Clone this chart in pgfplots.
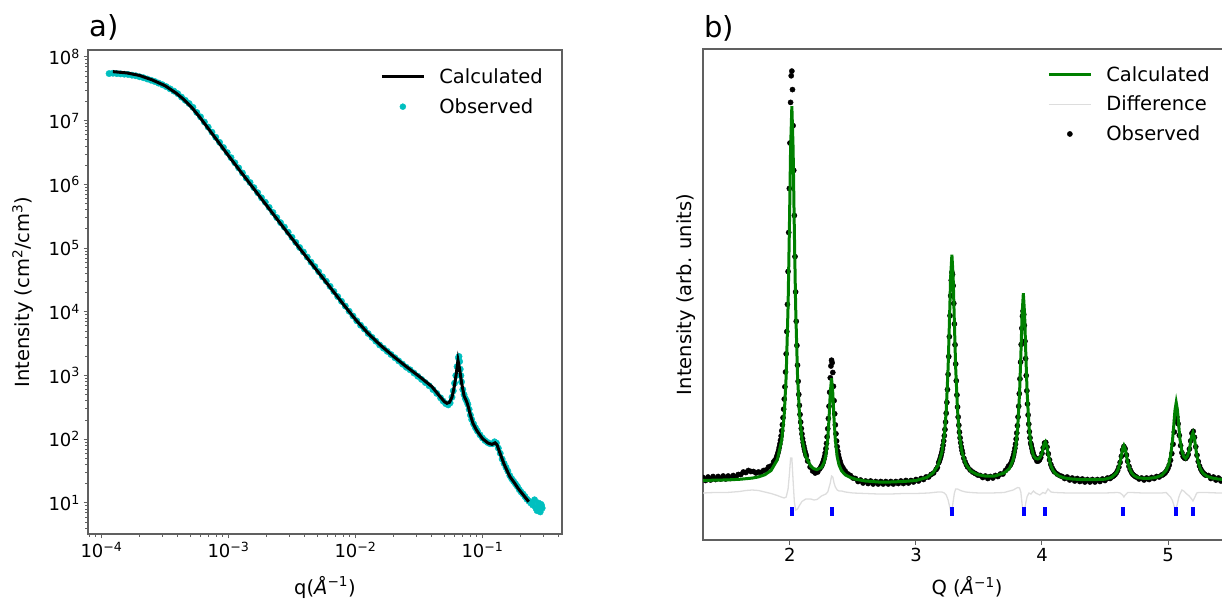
\documentclass[border=0pt]{standalone}
\usepackage{fontspec}
\setmainfont{DejaVu Sans}
\usepackage{pgfplots}
\usepackage{pgfplotstable}
\pgfplotsset{compat=1.18}

\definecolor{cCalc}{HTML}{008000}
\definecolor{cObs}{HTML}{00BFBF}
\definecolor{cDiff}{HTML}{DDDDDD}
\definecolor{cSpine}{HTML}{606060}

% panel a: log10(q) and log10(I)
\pgfplotstableread{
lq lI
-3.91 7.77
-3.80 7.75
-3.70 7.71
-3.60 7.64
-3.50 7.55
-3.41 7.43
-3.35 7.33
-3.29 7.21
-3.23 7.065
-3.17 6.905
-3.10 6.72
-3.00 6.45
-2.90 6.19
-2.80 5.93
-2.70 5.67
-2.60 5.41
-2.50 5.15
-2.40 4.895
-2.30 4.64
-2.20 4.385
-2.10 4.13
-2.00 3.88
-1.90 3.66
-1.80 3.47
-1.70 3.30
-1.60 3.14
-1.50 2.99
-1.40 2.83
-1.33 2.66
-1.30 2.59
-1.28 2.565
-1.26 2.58
-1.24 2.66
-1.22 2.85
-1.205 3.05
-1.193 3.24
-1.18 3.10
-1.164 2.88
-1.145 2.68
-1.124 2.59
-1.11 2.50
-1.098 2.40
-1.075 2.25
-1.046 2.14
-1.00 2.01
-0.956 1.94
-0.925 1.92
-0.901 1.945
-0.885 1.91
-0.862 1.78
-0.83 1.61
-0.80 1.48
-0.783 1.41
-0.75 1.32
-0.72 1.23
-0.68 1.13
-0.636 1.02
}\saxsCalc

\pgfplotstableread{
lq lI
-3.94 7.74
-3.91 7.745
-3.88 7.74
-3.85 7.735
-3.82 7.73
-3.79 7.725
-3.76 7.715
-3.73 7.705
-3.70 7.69
-3.67 7.675
-3.64 7.655
-3.61 7.635
-3.58 7.615
-3.55 7.59
-3.52 7.565
-3.49 7.535
-3.46 7.50
-3.43 7.465
-3.40 7.425
-3.37 7.37
-3.34 7.32
-3.31 7.27
-3.28 7.21
-3.25 7.13
-3.22 7.06
-3.19 6.98
-3.16 6.90
-3.13 6.82
-3.10 6.74
-3.07 6.66
-3.04 6.58
-3.01 6.50
-2.98 6.42
-2.95 6.34
-2.92 6.26
-2.89 6.18
-2.86 6.10
-2.83 6.03
-2.80 5.95
-2.77 5.87
-2.74 5.79
-2.71 5.72
-2.68 5.64
-2.65 5.56
-2.62 5.48
-2.59 5.40
-2.56 5.33
-2.53 5.25
-2.50 5.17
-2.47 5.09
-2.44 5.01
-2.41 4.94
-2.38 4.86
-2.35 4.78
-2.32 4.71
-2.29 4.63
-2.26 4.55
-2.23 4.48
-2.20 4.40
-2.17 4.32
-2.14 4.24
-2.11 4.165
-2.08 4.09
-2.05 4.01
-2.02 3.935
-1.99 3.86
-1.96 3.79
-1.93 3.73
-1.90 3.66
-1.87 3.60
-1.84 3.54
-1.81 3.48
-1.78 3.43
-1.75 3.38
-1.72 3.33
-1.69 3.28
-1.66 3.23
-1.63 3.18
-1.60 3.13
-1.57 3.09
-1.54 3.04
-1.51 2.99
-1.48 2.94
-1.45 2.89
-1.42 2.84
-1.39 2.78
-1.36 2.72
-1.33 2.65
-1.31 2.60
-1.29 2.56
-1.27 2.54
-1.255 2.57
-1.24 2.66
-1.23 2.76
-1.22 2.88
-1.21 3.00
-1.20 3.14
-1.19 3.28
-1.185 3.30
-1.18 3.22
-1.175 3.10
-1.17 3.00
-1.165 2.90
-1.155 2.78
-1.145 2.70
-1.135 2.64
-1.125 2.60
-1.115 2.55
-1.105 2.47
-1.095 2.38
-1.085 2.31
-1.07 2.24
-1.055 2.18
-1.04 2.13
-1.02 2.07
-1.00 2.02
-0.98 1.98
-0.96 1.95
-0.94 1.93
-0.92 1.93
-0.905 1.96
-0.89 1.94
-0.875 1.86
-0.86 1.78
-0.845 1.69
-0.83 1.62
-0.815 1.56
-0.80 1.50
-0.785 1.43
-0.77 1.38
-0.755 1.34
-0.74 1.30
-0.725 1.26
-0.71 1.21
-0.695 1.17
-0.68 1.14
-0.665 1.10
-0.65 1.06
-0.635 1.03
-0.62 1.00
-0.605 0.97
-0.59 1.05
-0.58 0.92
-0.57 0.88
-0.56 1.00
-0.55 0.94
-0.545 0.86
-0.54 0.98
-0.535 0.96
-0.53 0.92
}\saxsObs

% panel b: Q and intensity in arbitrary units (0 = bottom of the frame)
\pgfplotstableread{
Q I
1.31 58.6
1.40 58.8
1.50 59.1
1.60 59.7
1.70 60.9
1.75 62.1
1.80 64.2
1.85 68.5
1.90 79.3
1.935 99.3
1.955 125.4
1.97 163
1.985 232.6
1.995 306.3
2.005 390.3
2.015 432.8
2.025 390.2
2.035 306.7
2.045 233.1
2.06 163.5
2.075 126.1
2.095 100.2
2.125 82.6
2.165 72.7
2.19 70.3
2.215 69.4
2.25 71.5
2.27 76.2
2.285 84
2.30 100.5
2.31 120.2
2.32 146.2
2.33 160.8
2.34 145.8
2.35 119.5
2.36 99.3
2.375 82.2
2.39 73.8
2.41 68.1
2.44 64
2.48 61.5
2.53 59.5
2.60 58
2.70 57
2.80 57
2.90 57.5
3.00 58.5
3.085 61.5
3.135 66
3.175 73.5
3.205 86.3
3.225 103.6
3.24 127.9
3.255 171.4
3.265 214.9
3.275 261.8
3.285 284.4
3.295 261.8
3.305 214.9
3.315 171.4
3.33 128
3.345 104
3.365 86.9
3.395 74.8
3.435 67.9
3.485 64.5
3.55 62.9
3.62 62.8
3.70 66
3.742 70.6
3.772 79.6
3.792 92.5
3.807 111.1
3.822 145.9
3.832 182.5
3.842 224.3
3.852 245.7
3.862 224.7
3.872 183.2
3.882 146.6
3.897 112.2
3.912 94.1
3.932 83.5
3.95 80.5
3.967 80
3.982 81
3.997 84.5
4.007 89.5
4.017 95
4.027 97.1
4.037 93.7
4.047 86.8
4.057 80
4.072 72.9
4.087 68.6
4.107 65.4
4.137 62.9
4.177 61.1
4.227 60.1
4.30 59.5
4.40 59.3
4.50 59.8
4.55 61.5
4.59 66
4.605 69.9
4.62 76.8
4.63 83.4
4.64 90.1
4.65 93.4
4.66 90.3
4.67 83.6
4.68 77
4.695 70.4
4.71 66.3
4.73 63.4
4.76 61.4
4.80 60.7
4.85 60.7
4.90 61.4
4.95 63.7
4.985 68.5
5.005 74.4
5.02 82.8
5.035 97.6
5.045 112.6
5.055 128.5
5.065 136.5
5.075 129.1
5.085 113.8
5.095 99.6
5.11 88
5.125 82.5
5.14 80.5
5.155 83
5.168 88.5
5.178 95.5
5.188 103
5.198 106.3
5.208 101.9
5.218 93
5.228 84.3
5.243 75.1
5.258 69.8
5.278 65.7
5.31 62.7
5.35 61
5.40 59.9
5.45 59.4
5.50 59.1
}\xrdCalc

\pgfplotstableread{
Q I
1.31 61.5
1.33 58.5
1.35 62
1.37 59
1.39 62.5
1.41 59.5
1.43 62.5
1.45 60
1.47 63
1.49 60
1.51 63
1.53 60.5
1.55 63.5
1.57 61.5
1.59 64.5
1.61 64.5
1.63 67
1.65 66.5
1.67 68.5
1.69 67.5
1.71 67.5
1.73 66
1.75 67
1.77 66.5
1.79 68.5
1.81 69
1.83 72
1.85 73
1.87 77
1.88 78.5
1.890 80.4
1.895 82.2
1.900 84.1
1.905 86.3
1.910 88.8
1.915 91.7
1.920 95
1.925 98.8
1.930 103.1
1.935 108.2
1.940 114.3
1.945 121.3
1.950 129.8
1.955 139.9
1.960 152.2
1.965 167
1.970 185.1
1.975 207.4
1.980 234.6
1.985 267.5
1.990 306.5
1.995 350.5
2.000 396
2.005 436.6
2.010 463.2
2.015 467.9
2.020 449.4
2.025 413.3
2.030 368.6
2.035 323.5
2.040 282.4
2.045 247.1
2.050 217.7
2.055 193.5
2.060 173.8
2.065 157.7
2.070 144.5
2.075 133.6
2.080 124.5
2.085 116.9
2.090 110.5
2.095 105.1
2.100 100.4
2.105 96.4
2.110 93
2.115 90
2.120 87.3
2.125 85
2.130 82.9
2.14 78
2.16 72
2.18 68
2.20 66
2.22 67
2.235 70
2.245 71.8
2.250 72.9
2.255 74.3
2.260 75.8
2.265 77.7
2.270 80
2.275 82.7
2.280 86.1
2.285 90.3
2.290 95.6
2.295 102.1
2.300 110.3
2.305 120.5
2.310 132.8
2.315 146.8
2.320 161.2
2.325 173
2.330 178.8
2.335 176.3
2.340 166.5
2.345 152.7
2.350 138.3
2.355 125.2
2.360 114.1
2.365 105.2
2.370 98
2.375 92.3
2.380 87.7
2.385 84
2.390 81
2.395 78.6
2.400 76.6
2.410 73.4
2.420 71.2
2.430 69
2.44 67.5
2.46 65
2.48 63.5
2.50 61
2.52 60.5
2.54 57.5
2.56 59
2.58 56
2.60 58
2.62 55.5
2.64 58
2.66 55
2.68 57.5
2.70 55
2.72 57.5
2.74 55
2.76 57.5
2.78 55
2.80 57.5
2.82 55
2.84 57.5
2.86 55.5
2.88 58
2.90 55.5
2.92 58.5
2.94 56
2.96 58.5
2.98 57
3.00 59.5
3.02 58
3.04 60.5
3.06 59.5
3.08 62
3.10 62
3.12 64.5
3.14 66
3.16 69.5
3.17 71.5
3.180 76.2
3.185 77.8
3.190 79.6
3.195 81.7
3.200 84
3.205 86.8
3.210 90
3.215 93.7
3.220 98.1
3.225 103.3
3.230 109.5
3.235 117
3.240 125.8
3.245 136.6
3.250 149.4
3.255 164.6
3.260 182.4
3.265 202.3
3.270 223.3
3.275 243.2
3.280 258.7
3.285 266.5
3.290 264.5
3.295 253.3
3.300 235.6
3.305 215
3.310 194.2
3.315 175
3.320 158.2
3.325 144
3.330 132
3.335 122
3.340 113.8
3.345 106.8
3.350 101.1
3.355 96.3
3.360 92.1
3.365 88.6
3.370 85.6
3.380 80.8
3.390 77.2
3.400 74.3
3.41 72
3.43 69
3.45 67
3.47 65.5
3.49 64
3.51 63.5
3.53 61.5
3.55 63
3.57 60.5
3.59 62.5
3.61 61
3.63 63.5
3.65 62.5
3.67 65
3.69 65
3.71 68.5
3.725 70.5
3.735 73
3.745 73.4
3.750 74.6
3.755 76
3.760 77.6
3.765 79.5
3.770 81.7
3.775 84.2
3.780 87.2
3.785 90.7
3.790 94.9
3.795 100
3.800 106
3.805 113.3
3.810 122
3.815 132.7
3.820 145.3
3.825 160.1
3.830 176.9
3.835 194.4
3.840 210.7
3.845 222.8
3.850 228
3.855 224.5
3.860 213.6
3.865 197.8
3.870 180.4
3.875 163.4
3.880 148.2
3.885 135
3.890 124
3.895 114.9
3.900 107.3
3.905 101.1
3.910 95.9
3.915 94
3.920 90.8
3.925 88
3.930 85.7
3.940 82.5
3.950 80.7
3.960 77.9
3.970 77.9
3.980 79
3.990 81.5
4.000 85.7
4.010 91.2
4.020 96
4.030 96.6
4.040 92
4.050 85.2
4.060 79.1
4.070 74.5
4.080 71.2
4.090 68.8
4.100 67.1
4.12 65
4.14 63.5
4.16 62.5
4.18 60.5
4.20 62
4.22 59
4.24 61
4.26 58
4.28 60.5
4.30 57.5
4.32 60
4.34 57
4.36 59.5
4.38 57
4.40 59.5
4.42 57
4.44 59.5
4.46 57.5
4.48 60
4.50 58.5
4.52 61
4.54 60.5
4.55 61.8
4.56 62.5
4.57 63.3
4.58 64.5
4.59 66.2
4.60 68.5
4.61 71.9
4.62 76.6
4.63 82.7
4.64 89.1
4.65 92.5
4.66 90.2
4.67 84
4.68 77.7
4.69 72.7
4.70 69.1
4.71 66.6
4.72 64.8
4.73 63.6
4.74 62.6
4.75 61.9
4.77 60
4.79 61
4.81 59
4.83 61
4.85 59.5
4.87 61.5
4.89 60.5
4.91 62.5
4.93 62
4.95 64
4.96 64.2
4.97 65.3
4.98 66.6
4.99 68.4
5.00 70.8
5.01 74
5.02 78.7
5.03 85.4
5.04 94.8
5.05 107
5.06 118.2
5.07 122
5.08 115.2
5.09 103.6
5.10 93.4
5.11 86.3
5.12 82.5
5.13 81
5.14 80.5
5.15 82
5.16 84.5
5.17 90
5.18 98.1
5.19 105.7
5.20 107.7
5.21 101.7
5.22 92.3
5.23 83.8
5.24 77.5
5.25 73
5.26 69.9
5.27 67.6
5.28 66
5.29 64.8
5.30 63.8
5.32 63.5
5.34 60.5
5.36 62
5.38 59
5.40 61
5.42 58
5.44 60
5.46 57.5
5.48 60
5.50 57.5
}\xrdObs

\pgfplotstableread{
Q I
1.31 46
1.40 46.5
1.50 46.5
1.60 47.5
1.65 48.5
1.70 49
1.75 48.5
1.80 47
1.85 45.5
1.90 43.5
1.93 42
1.955 41
1.97 42
1.985 50
1.995 64
2.005 81
2.015 81
2.025 58
2.035 37
2.045 29
2.06 30
2.075 33.5
2.095 37.5
2.125 40
2.165 40
2.19 39
2.215 39.5
2.25 43
2.285 45
2.30 47
2.32 56
2.33 63
2.34 62
2.35 56
2.36 52
2.375 49
2.39 48
2.41 48
2.44 47
2.50 46
2.60 45.5
2.70 45
2.80 45
2.90 45.5
3.00 45.5
3.10 46
3.175 47
3.205 47
3.225 46
3.24 44
3.255 39
3.265 33.5
3.275 27.5
3.285 28
3.295 37.5
3.305 46
3.315 50
3.33 50
3.345 49
3.365 48
3.395 47
3.435 46.5
3.50 46
3.60 46
3.70 46.5
3.742 48
3.772 49
3.792 50.5
3.807 51.5
3.822 51
3.832 47
3.842 35
3.852 27
3.862 29
3.872 36.5
3.882 42.5
3.897 46
3.912 45
3.932 48
3.95 46
3.982 44
4.007 46.5
4.027 45.5
4.047 50
4.072 47
4.10 46.5
4.20 46
4.50 46
4.60 46.5
4.62 46
4.64 44
4.65 42
4.66 44
4.68 46.5
4.71 46.5
4.80 46
4.95 46
4.985 46.5
5.02 42
5.035 38.5
5.045 34.5
5.055 30
5.065 31
5.075 35.5
5.085 41.5
5.095 45
5.11 49
5.125 48
5.14 46
5.168 43
5.188 40
5.198 38
5.21 41
5.228 46
5.243 46.5
5.30 46.5
5.40 46
5.50 46
}\xrdDiff

\tikzset{labfont/.style={font=\fontsize{19.5}{23}\selectfont}}
\pgfplotsset{
  lineleg/.style={legend image code/.code={\draw[##1] (0pt,0pt) -- (42pt,0pt);}},
  dotleg/.style={legend image code/.code={\draw[##1] plot coordinates {(21pt,0pt)};}},
  panel/.style={
    scale only axis, anchor=south west,
    clip marker paths=true,
    tick pos=left, tick align=outside,
    major tick length=4.5pt, minor tick length=2.5pt,
    tick style={cSpine, line width=1pt},
    axis line style={cSpine, line width=1.5pt},
    tick label style={font=\fontsize{18}{21}\selectfont},
    /pgf/number format/assume math mode=true,
    legend cell align=left,
    legend style={draw=none, fill=none, font=\fontsize{19.5}{23}\selectfont,
      at={(1,1)}, anchor=north east, row sep=10pt,
      /tikz/every odd column/.append style={column sep=12pt}},
  },
}

\begin{document}
\begin{tikzpicture}
\begin{axis}[panel,
  at={(88pt,66pt)}, width=474pt, height=484pt,
  xmode=log, ymode=log,
  xmin=7.83e-5, xmax=0.4227, ymin=3.26, ymax=1.288e8,
  xtick={1e-4,1e-3,1e-2,1e-1},
  xticklabels={10\textsuperscript{−4},10\textsuperscript{−3},10\textsuperscript{−2},10\textsuperscript{−1}},
  minor xtick={8e-5,9e-5,2e-4,3e-4,4e-4,5e-4,6e-4,7e-4,8e-4,9e-4,2e-3,3e-3,4e-3,5e-3,6e-3,7e-3,8e-3,9e-3,2e-2,3e-2,4e-2,5e-2,6e-2,7e-2,8e-2,9e-2,2e-1,3e-1,4e-1},
  ytick={1e1,1e2,1e3,1e4,1e5,1e6,1e7,1e8},
  yticklabels={10\textsuperscript{1},10\textsuperscript{2},10\textsuperscript{3},10\textsuperscript{4},10\textsuperscript{5},10\textsuperscript{6},10\textsuperscript{7},10\textsuperscript{8}},
  minor ytick={4,5,6,7,8,9,2e1,3e1,4e1,5e1,6e1,7e1,8e1,9e1,2e2,3e2,4e2,5e2,6e2,7e2,8e2,9e2,2e3,3e3,4e3,5e3,6e3,7e3,8e3,9e3,2e4,3e4,4e4,5e4,6e4,7e4,8e4,9e4,2e5,3e5,4e5,5e5,6e5,7e5,8e5,9e5,2e6,3e6,4e6,5e6,6e6,7e6,8e6,9e6,2e7,3e7,4e7,5e7,6e7,7e7,8e7,9e7},
  xlabel={q(\textit{Å}\textsuperscript{−1})},
  ylabel={Intensity (cm\textsuperscript{2}/cm\textsuperscript{3})},
  every axis x label/.style={labfont, at={(axis description cs:0.5,-0.1095)}, anchor=center},
  every axis y label/.style={labfont, at={(axis description cs:-0.137,0.5)}, anchor=center, rotate=90},
  legend style={xshift=-14pt, yshift=-14pt},
]
\addlegendimage{lineleg, black, line width=3pt}
\addlegendentry{Calculated}
\addlegendimage{dotleg, only marks, mark=*, mark size=3pt, cObs}
\addlegendentry{Observed}
\addplot[forget plot, only marks, mark=*, mark size=3.2pt, cObs]
  table[x expr={10^(\thisrow{lq})}, y expr={10^(\thisrow{lI})}] {\saxsObs};
\addplot[forget plot, black, line width=3pt]
  table[x expr={10^(\thisrow{lq})}, y expr={10^(\thisrow{lI})}] {\saxsCalc};
\end{axis}
\node[anchor=base west, font=\fontsize{29}{34}\selectfont] at (86pt,563pt) {a)};

\begin{axis}[panel,
  at={(703pt,60pt)}, width=528pt, height=491pt,
  xmin=1.31, xmax=5.5, ymin=-1, ymax=490,
  xtick={2,3,4,5}, ytick=\empty,
  xlabel={Q (\textit{Å}\textsuperscript{−1})},
  ylabel={Intensity (arb. units)},
  every axis x label/.style={labfont, at={(axis description cs:0.5,-0.0957)}, anchor=center},
  every axis y label/.style={labfont, at={(axis description cs:-0.032,0.5)}, anchor=center, rotate=90},
  legend style={xshift=-16pt, yshift=-13pt, row sep=9.5pt},
]
\addlegendimage{lineleg, cCalc, line width=3pt}
\addlegendentry{Calculated}
\addlegendimage{lineleg, cDiff, line width=1.3pt}
\addlegendentry{Difference}
\addlegendimage{dotleg, only marks, mark=*, mark size=2.6pt, black}
\addlegendentry{Observed}
\addplot[forget plot, only marks, mark=*, mark size=2.6pt, black] table[x=Q, y=I] {\xrdObs};
\addplot[forget plot, cCalc, line width=3pt] table[x=Q, y=I] {\xrdCalc};
\addplot[forget plot, cDiff, line width=1.3pt] table[x=Q, y=I] {\xrdDiff};
\addplot[forget plot, only marks, mark=|, mark size=4.5pt, blue, mark options={line width=4pt}]
  coordinates {(2.015,27.5) (2.330,27.5) (3.283,27.5) (3.855,27.5) (4.027,27.5) (4.646,27.5) (5.062,27.5) (5.198,27.5)};
\end{axis}
\node[anchor=base west, font=\fontsize{29}{34}\selectfont] at (701pt,562pt) {b)};

\pgfresetboundingbox
\useasboundingbox (0pt,0pt) rectangle (1222pt,600pt);
\end{tikzpicture}
\end{document}
